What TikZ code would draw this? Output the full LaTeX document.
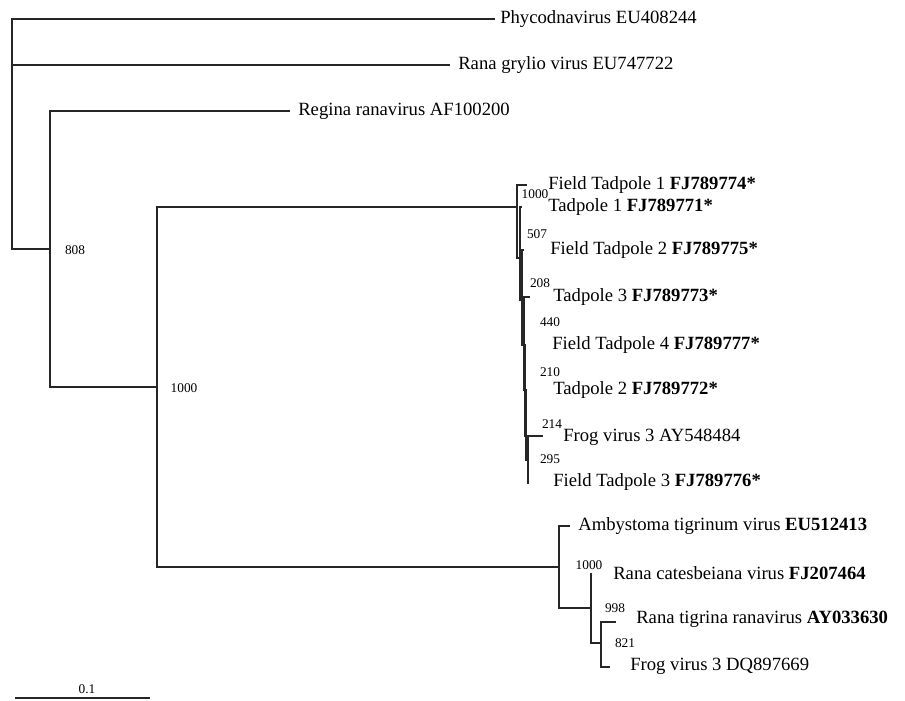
\documentclass[tikz,border=0pt]{standalone}
\usepackage{fontspec}
\setmainfont{Liberation Serif}

\begin{document}
\begin{tikzpicture}[x=0.75pt, y=-0.75pt,
	branch/.style={draw=black!85, line width=0.85pt},
	taxon/.style={anchor=west, inner sep=0pt, font=\fontsize{14}{16}\selectfont},
	boot/.style={inner sep=0pt, font=\fontsize{10}{12}\selectfont}]
	\useasboundingbox (0,0) rectangle (905,700);
	% internal nodes
	\coordinate (root) at (12,134);
	\coordinate (n808) at (50,249);
	\coordinate (nfv) at (157,387);
	\coordinate (t1) at (517,207);
	\coordinate (t2) at (520,258);
	\coordinate (t3) at (522,300);
	\coordinate (t4) at (524,345);
	\coordinate (t5) at (525,390);
	\coordinate (t6) at (526,436);
	\coordinate (t7) at (528,460);
	\coordinate (b1) at (559,567);
	\coordinate (b2) at (591,608);
	\coordinate (b3) at (601,643);
	% leaf ends
	\coordinate (phy) at (495,19);
	\coordinate (gry) at (450,65);
	\coordinate (reg) at (290,111);
	\coordinate (ft1) at (527,185);
	\coordinate (tp1) at (522,207);
	\coordinate (ft2) at (524,250);
	\coordinate (tp3) at (530,297);
	\coordinate (ft4) at (526,345);
	\coordinate (tp2) at (527,390);
	\coordinate (fva) at (543,436);
	\coordinate (ft3) at (529,483);
	\coordinate (amb) at (570,526);
	\coordinate (rca) at (591,573);
	\coordinate (rti) at (616,622);
	\coordinate (fvd) at (610,667);
	% branches
	\draw[branch] (root) |- (phy) (root) |- (gry) (root) |- (n808);
	\draw[branch] (n808) |- (reg) (n808) |- (nfv);
	\draw[branch] (nfv) |- (t1) (nfv) |- (b1);
	\draw[branch] (t1) |- (ft1) (t1) |- (t2);
	\draw[branch] (t2) |- (tp1) (t2) |- (t3);
	\draw[branch] (t3) |- (ft2) (t3) |- (t4);
	\draw[branch] (t4) |- (tp3) (t4) |- (t5);
	\draw[branch] (t5) |- (ft4) (t5) |- (t6);
	\draw[branch] (t6) |- (tp2) (t6) |- (t7);
	\draw[branch] (t7) |- (fva) (t7) |- (ft3);
	\draw[branch] (b1) |- (amb) (b1) |- (b2);
	\draw[branch] (b2) |- (rca) (b2) |- (b3);
	\draw[branch] (b3) |- (rti) (b3) |- (fvd);
	% taxa
	\node[taxon] (lphy) at (500,19) {Phycodnavirus EU408244};
	\node[taxon] (lgry) at (458,65) {Rana grylio virus EU747722};
	\node[taxon] (lreg) at (298,111) {Regina ranavirus AF100200};
	\node[taxon] (lft1) at (548,185) {Field Tadpole 1 \textbf{FJ789774*}};
	\node[taxon] (ltp1) at (548,207) {Tadpole 1 \textbf{FJ789771*}};
	\node[taxon] (lft2) at (550,250) {Field Tadpole 2 \textbf{FJ789775*}};
	\node[taxon] (ltp3) at (553,297) {Tadpole 3 \textbf{FJ789773*}};
	\node[taxon] (lft4) at (552,345) {Field Tadpole 4 \textbf{FJ789777*}};
	\node[taxon] (ltp2) at (553,390) {Tadpole 2 \textbf{FJ789772*}};
	\node[taxon] (lfva) at (563,437) {Frog virus 3 AY548484};
	\node[taxon] (lft3) at (553,482) {Field Tadpole 3 \textbf{FJ789776*}};
	\node[taxon] (lamb) at (578,526) {Ambystoma tigrinum virus \textbf{EU512413}};
	\node[taxon] (lrca) at (613,573) {Rana catesbeiana virus \textbf{FJ207464}};
	\node[taxon] (lrti) at (636,619) {Rana tigrina ranavirus \textbf{AY033630}};
	\node[taxon] (lfvd) at (630,666) {Frog virus 3 DQ897669};
	% bootstrap values
	\node[boot] (s808) at (75,250) {808};
	\node[boot] (snfv) at (184,388) {1000};
	\node[boot] (st1) at (535,194) {1000};
	\node[boot] (st2) at (537,234) {507};
	\node[boot] (st3) at (540,283) {208};
	\node[boot] (st4) at (550,322) {440};
	\node[boot] (st5) at (550,372) {210};
	\node[boot] (st6) at (552,424) {214};
	\node[boot] (st7) at (550,459) {295};
	\node[boot] (sb1) at (589,565) {1000};
	\node[boot] (sb2) at (615,608) {998};
	\node[boot] (sb3) at (625,643) {821};
	% scale bar
	\coordinate (barL) at (15,698);
	\coordinate (barR) at (150,698);
	\draw[branch] (barL) -- (barR);
	\node[boot] (lbar) at (87,689) {0.1};
\end{tikzpicture}
\end{document}
